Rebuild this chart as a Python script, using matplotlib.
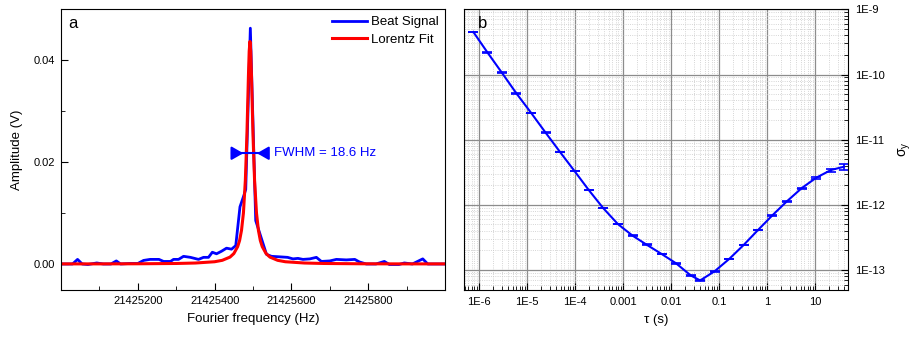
import matplotlib
matplotlib.use('Agg')
import matplotlib.pyplot as plt
from matplotlib.ticker import MultipleLocator, LogLocator, FixedLocator, FixedFormatter, NullFormatter

plt.rcParams['font.family'] = ['Liberation Sans', 'DejaVu Sans']

# panel a: beat signal spectrum
beat_freq = [21425000, 21425030, 21425043, 21425055, 21425070, 21425093, 21425110, 21425130,
             21425144, 21425155, 21425180, 21425200, 21425215, 21425232, 21425255, 21425267,
             21425285, 21425293, 21425306, 21425319, 21425337, 21425358, 21425371, 21425384,
             21425394, 21425405, 21425418, 21425431, 21425444, 21425455, 21425466, 21425476,
             21425481, 21425493, 21425507, 21425518, 21425535, 21425548, 21425570, 21425590,
             21425604, 21425617, 21425630, 21425648, 21425665, 21425678, 21425700, 21425717,
             21425743, 21425765, 21425777, 21425795, 21425820, 21425842, 21425855, 21425880,
             21425894, 21425915, 21425942, 21425955, 21425975, 21426000]
beat_amp = [0.0001, 0.0001, 0.0010, 0.0001, 0.0000, 0.0003, 0.0001, 0.0001,
            0.0007, 0.0001, 0.0002, 0.0002, 0.0008, 0.0010, 0.0010, 0.0006,
            0.0006, 0.0010, 0.0010, 0.0016, 0.0014, 0.0010, 0.0014, 0.0014,
            0.0024, 0.0021, 0.0026, 0.0032, 0.0030, 0.0037, 0.0113, 0.0135,
            0.0147, 0.0463, 0.0086, 0.0060, 0.0020, 0.0016, 0.0015, 0.0014,
            0.0011, 0.0012, 0.0010, 0.0011, 0.0014, 0.0006, 0.0007, 0.0010,
            0.0009, 0.0010, 0.0005, 0.0001, 0.0001, 0.0006, 0.0000, 0.0000,
            0.0003, 0.0001, 0.0011, 0.0001, 0.0001, 0.0001]

fit_freq = [21425000, 21425100, 21425200, 21425300, 21425350, 21425400, 21425420, 21425440,
            21425450, 21425460, 21425465, 21425470, 21425475, 21425480, 21425484, 21425488,
            21425490, 21425492, 21425494, 21425496, 21425500, 21425504, 21425509, 21425514,
            21425519, 21425524, 21425534, 21425544, 21425564, 21425584, 21425634, 21425684,
            21425784, 21425884, 21426000]
fit_amp = [0.00012, 0.00012, 0.00014, 0.0002, 0.00029, 0.00054, 0.00082, 0.00145,
           0.00214, 0.0035, 0.0047, 0.0067, 0.0101, 0.0165, 0.0252, 0.0369,
           0.0418, 0.0437, 0.0418, 0.0369, 0.0252, 0.0165, 0.0101, 0.0067,
           0.0047, 0.0035, 0.00214, 0.00145, 0.00082, 0.00054, 0.00029, 0.0002,
           0.00014, 0.00012, 0.00012]

freq_ticks = [21425200, 21425400, 21425600, 21425800]
freq_labels = ['21425200', '21425400', '21425600', '21425800']

# panel b: Allan deviation
tau = [7.6e-7, 1.49e-6, 2.98e-6, 6.0e-6, 1.22e-5, 2.44e-5, 4.89e-5, 9.76e-5, 1.93e-4,
       3.85e-4, 7.8e-4, 1.58e-3, 3.1e-3, 6.4e-3, 1.27e-2, 2.57e-2, 4.04e-2, 8.05e-2,
       0.163, 0.325, 0.648, 1.29, 2.58, 5.3, 10.6, 21.4, 40.1]
sigma = [4.5e-10, 2.19e-10, 1.07e-10, 5.14e-11, 2.57e-11, 1.28e-11, 6.45e-12, 3.3e-12, 1.69e-12,
         8.94e-13, 5.08e-13, 3.37e-13, 2.45e-13, 1.76e-13, 1.27e-13, 8.28e-14, 6.93e-14, 9.55e-14,
         1.48e-13, 2.42e-13, 4.11e-13, 6.9e-13, 1.13e-12, 1.81e-12, 2.61e-12, 3.42e-12, 3.85e-12]
rel_err = [0.01] * 22 + [0.015, 0.02, 0.03, 0.05, 0.1]
sigma_err = [s * e for s, e in zip(sigma, rel_err)]

blue = '#0000ff'
red = '#ff0000'

fig = plt.figure(figsize=(9.11, 3.39), dpi=100)
ax1 = fig.add_axes([0.067, 0.1445, 0.4215, 0.828])
ax2 = fig.add_axes([0.5097, 0.1445, 0.4215, 0.828])

# ---- panel a
ax1.plot(beat_freq, beat_amp, color=blue, lw=2, label='Beat Signal')
ax1.plot(fit_freq, fit_amp, color=red, lw=2.2, label='Lorentz Fit')
ax1.set_xlim(21425000, 21426000)
ax1.set_ylim(-0.005, 0.05)
ax1.xaxis.set_major_locator(FixedLocator(freq_ticks))
ax1.xaxis.set_major_formatter(FixedFormatter(freq_labels))
ax1.xaxis.set_minor_locator(MultipleLocator(100))
ax1.yaxis.set_major_locator(FixedLocator([0.0, 0.02, 0.04]))
ax1.yaxis.set_major_formatter(FixedFormatter(['0.00', '0.02', '0.04']))
ax1.yaxis.set_minor_locator(MultipleLocator(0.01))
ax1.tick_params(which='both', direction='in', top=False, right=False, labelsize=8, pad=4)
ax1.tick_params(which='major', length=5)
ax1.tick_params(which='minor', length=3)
ax1.set_xlabel('Fourier frequency (Hz)', fontsize=9.5, labelpad=5)
ax1.set_ylabel('Amplitude (V)', fontsize=9.5, labelpad=8)
ax1.legend(loc='upper right', frameon=False, fontsize=9.5, handlelength=2.6,
           handletextpad=0.3, borderaxespad=0.1, labelspacing=0.4)
ax1.text(0.02, 0.975, 'a', transform=ax1.transAxes, fontsize=12, va='top')

# FWHM marker
y_half = 0.0218
ax1.plot([21425444, 21425535], [y_half, y_half], color=blue, lw=1.5)
ax1.annotate('', xy=(21425482, y_half), xytext=(21425440, y_half),
             arrowprops=dict(arrowstyle='-|>,head_length=0.7,head_width=0.4', color=blue, lw=1.5))
ax1.annotate('', xy=(21425503, y_half), xytext=(21425545, y_half),
             arrowprops=dict(arrowstyle='-|>,head_length=0.7,head_width=0.4', color=blue, lw=1.5))
ax1.text(21425555, y_half, 'FWHM = 18.6 Hz', color=blue, fontsize=9.5, va='center')

# ---- panel b
ax2.set_xscale('log')
ax2.set_yscale('log')
ax2.errorbar(tau, sigma, yerr=sigma_err, color=blue, lw=1.5, capsize=3.5, elinewidth=1.2, capthick=1.2)
ax2.set_xlim(4.94e-7, 49.4)
ax2.set_ylim(4.94e-14, 1e-9)
xt = [1e-6, 1e-5, 1e-4, 1e-3, 1e-2, 0.1, 1, 10]
ax2.xaxis.set_major_locator(FixedLocator(xt))
ax2.xaxis.set_major_formatter(FixedFormatter(['1E-6', '1E-5', '1E-4', '0.001', '0.01', '0.1', '1', '10']))
ax2.xaxis.set_minor_locator(LogLocator(base=10, subs=range(2, 10), numticks=20))
ax2.xaxis.set_minor_formatter(NullFormatter())
yt = [1e-13, 1e-12, 1e-11, 1e-10, 1e-9]
ax2.yaxis.set_major_locator(FixedLocator(yt))
ax2.yaxis.set_major_formatter(FixedFormatter(['1E-13', '1E-12', '1E-11', '1E-10', '1E-9']))
ax2.yaxis.set_minor_locator(LogLocator(base=10, subs=range(2, 10), numticks=20))
ax2.yaxis.set_minor_formatter(NullFormatter())
ax2.yaxis.tick_right()
ax2.yaxis.set_label_position('right')
ax2.tick_params(which='both', direction='in', left=False, top=False, right=True, labelsize=8, pad=5)
ax2.tick_params(which='major', length=5)
ax2.tick_params(which='minor', length=3)
ax2.grid(which='major', color='#8c8c8c', lw=0.9)
ax2.grid(which='minor', color='#c8c8c8', lw=0.6, ls=':')
ax2.set_axisbelow(True)
ax2.set_xlabel('τ (s)', fontsize=9.5, labelpad=5)
ax2.set_ylabel(r'$\mathregular{\sigma_y}$', fontsize=10, labelpad=8)
ax2.text(0.035, 0.975, 'b', transform=ax2.transAxes, fontsize=12, va='top')

fig.savefig('out.png', dpi=100)
